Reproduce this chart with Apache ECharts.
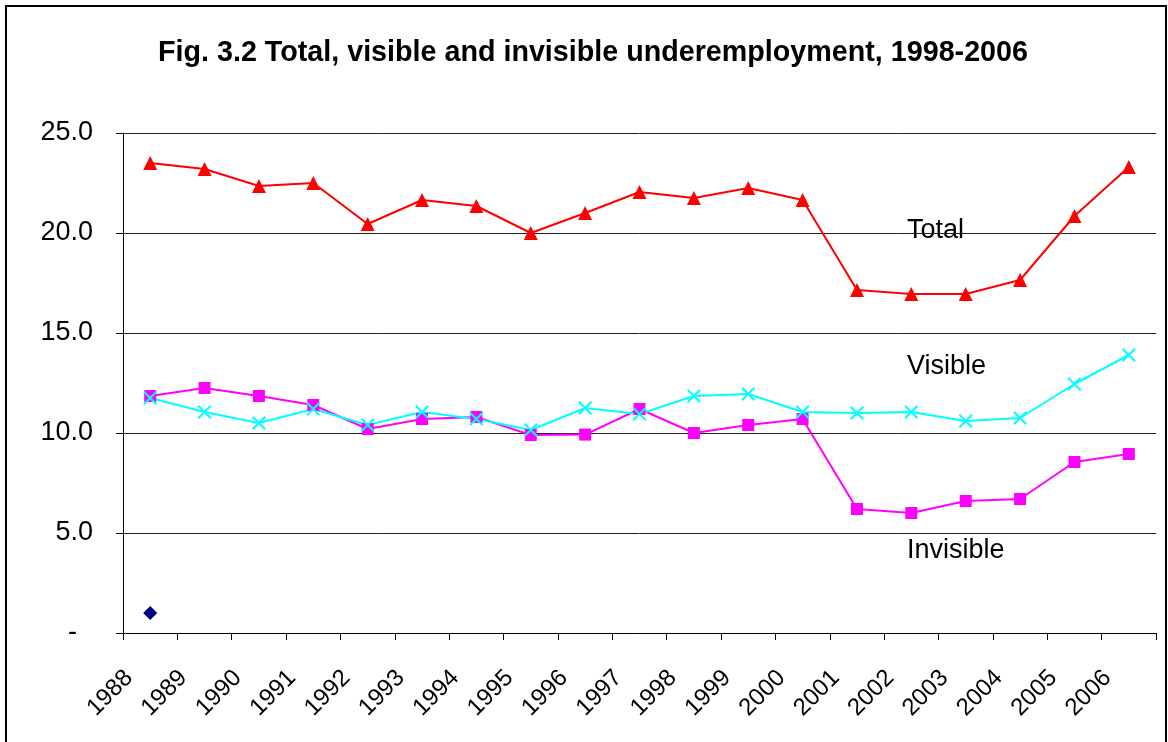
<!DOCTYPE html>
<html>
<head>
<meta charset="utf-8">
<script src="https://cdn.jsdelivr.net/npm/echarts@6/dist/echarts.min.js"></script>
<style>
  html, body { margin: 0; padding: 0; background: #fff; }
</style>
</head>
<body>
<div id="chart" style="width: 1168px; height: 742px;"></div>
<script>
// years on the x axis
const years = ['1988', '1989', '1990', '1991', '1992', '1993', '1994', '1995', '1996', '1997',
  '1998', '1999', '2000', '2001', '2002', '2003', '2004', '2005', '2006'];
// underemployment, %
const total = [23.5, 23.2, 22.35, 22.5, 20.45, 21.65, 21.35, 20.0, 21.0, 22.05,
  21.75, 22.25, 21.65, 17.15, 16.95, 16.95, 17.65, 20.85, 23.3];
const visible = [11.75, 11.05, 10.5, 11.2, 10.4, 11.05, 10.7, 10.15, 11.25, 10.95,
  11.85, 11.95, 11.05, 11.0, 11.05, 10.6, 10.75, 12.45, 13.9];
const invisible = [11.85, 12.25, 11.85, 11.4, 10.2, 10.7, 10.8, 9.9, 9.92, 11.2,
  10.0, 10.4, 10.7, 6.2, 6.0, 6.6, 6.7, 8.55, 8.95];
// stray single point in the original sheet
const extra = [1.0, null, null, null, null, null, null, null, null, null,
  null, null, null, null, null, null, null, null, null];
const yTicks = [0, 5, 10, 15, 20, 25];

const font = '"Liberation Sans", Arial, sans-serif';
// x-shaped marker
const crossPath = 'path://M0,1L1,0L5,4L9,0L10,1L6,5L10,9L9,10L5,6L1,10L0,9L4,5Z';

let option = {
  animation: false,
  backgroundColor: '#fff',
  title: {
    text: 'Fig. 3.2 Total, visible and invisible underemployment, 1998-2006',
    left: 588,
    top: 34,
    textAlign: 'center',
    textStyle: { fontFamily: font, fontSize: 28.7, fontWeight: 'bold', color: '#000' }
  },
  grid: { left: 123, right: 12, top: 133, bottom: 109 },
  xAxis: {
    type: 'category',
    data: years,
    boundaryGap: true,
    axisLine: { lineStyle: { color: '#000', width: 1 } },
    axisTick: { show: true, length: 7, lineStyle: { color: '#000' } },
    axisLabel: {
      interval: 0,
      rotate: 45,
      margin: 20,
      formatter: v => '{a|' + v + '}',
      rich: { a: { fontFamily: font, fontSize: 24, color: '#000', padding: [0, 30, 0, 0] } }
    },
    splitLine: { show: false }
  },
  yAxis: {
    type: 'value',
    min: yTicks[0],
    max: yTicks[yTicks.length - 1],
    interval: 5,
    axisLine: { show: true, lineStyle: { color: '#000', width: 1 } },
    axisTick: { show: true, length: 7, lineStyle: { color: '#000' } },
    axisLabel: {
      margin: 30,
      formatter: v => v === 0 ? '{d|-}' : '{n|' + v.toFixed(1) + '}',
      rich: {
        n: { fontFamily: font, fontSize: 27, color: '#000' },
        d: { fontFamily: font, fontSize: 27, color: '#000', padding: [0, 16, 0, 0] }
      }
    },
    splitLine: { show: true, lineStyle: { color: '#222', width: 1 } }
  },
  series: [
    {
      name: 'Total',
      type: 'line',
      data: total,
      symbol: 'triangle',
      symbolSize: 14,
      lineStyle: { color: '#ff0000', width: 2 },
      itemStyle: { color: '#ff0000' }
    },
    {
      name: 'Invisible',
      type: 'line',
      data: invisible,
      symbol: 'rect',
      symbolSize: 12,
      lineStyle: { color: '#ff00ff', width: 2 },
      itemStyle: { color: '#ff00ff' }
    },
    {
      name: 'Visible',
      type: 'line',
      data: visible,
      symbol: crossPath,
      symbolSize: 14,
      lineStyle: { color: '#00ffff', width: 2 },
      itemStyle: { color: '#00ffff' }
    },
    {
      name: 'Other',
      type: 'line',
      data: extra,
      symbol: 'diamond',
      symbolSize: 14,
      showAllSymbol: true,
      lineStyle: { width: 0 },
      itemStyle: { color: '#000080' }
    }
  ],
  graphic: [
    {
      type: 'rect',
      shape: { x: 6, y: 6, width: 1160, height: 800 },
      style: { fill: 'none', stroke: '#000', lineWidth: 2 },
      silent: true
    },
    { type: 'text', left: 907, top: 217, style: { text: 'Total', font: '27px ' + font, fill: '#000' } },
    { type: 'text', left: 907, top: 353, style: { text: 'Visible', font: '27px ' + font, fill: '#000' } },
    { type: 'text', left: 907, top: 537, style: { text: 'Invisible', font: '27px ' + font, fill: '#000' } }
  ]
};

let myChart = echarts.init(document.getElementById('chart'));
myChart.setOption(option);
</script>
</body>
</html>
